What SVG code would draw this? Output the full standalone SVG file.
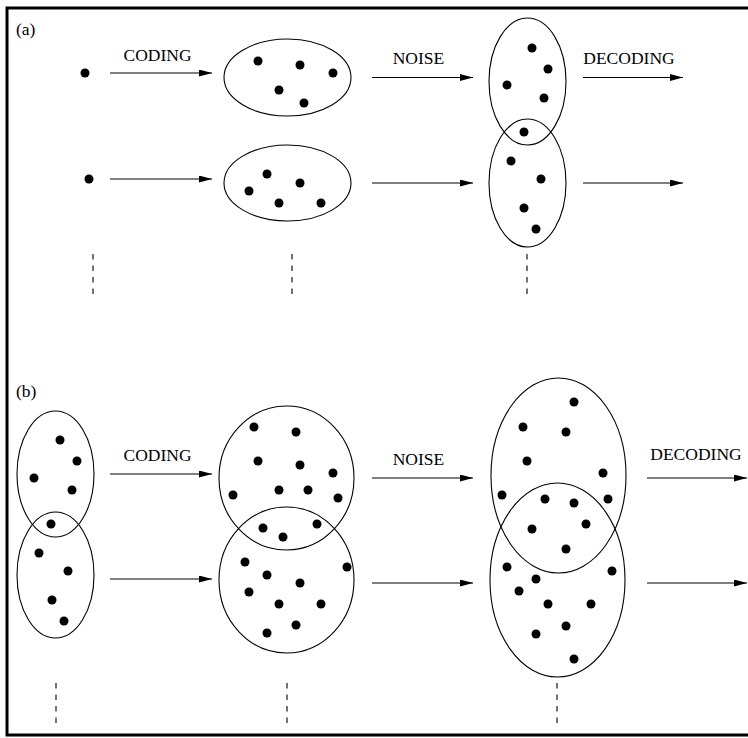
<svg xmlns="http://www.w3.org/2000/svg" width="748" height="738" viewBox="0 0 748 738">
<defs>
<style>
.frame{fill:none;stroke:#000;stroke-width:3}
.ell{fill:none;stroke:#000;stroke-width:1.1}
.dot{fill:#000}
.arr{stroke:#000;stroke-width:1.1;fill:none;marker-end:url(#ah)}
.dash{stroke:#000;stroke-width:1.1;stroke-dasharray:5.5 6}
.lbl{font-family:"Liberation Serif","Times New Roman",serif;font-size:17.5px;fill:#000}
.pl{font-family:"Liberation Serif","Times New Roman",serif;font-size:17.5px;fill:#000}
</style>
<marker id="ah" markerUnits="userSpaceOnUse" markerWidth="14" markerHeight="8" refX="13" refY="3.5" orient="auto">
<path d="M0,0 L13,3.5 L0,7 z" fill="#000"/>
</marker>
</defs>
<rect width="748" height="738" fill="#fff"/>
<path class="frame" d="M760,8 H7 V735 H760"/>

<text class="pl" x="16" y="35">(a)</text>
<text class="pl" x="16" y="397">(b)</text>

<g id="labels">
<text class="lbl" x="157.5" y="61" text-anchor="middle">CODING</text>
<text class="lbl" x="418.5" y="64" text-anchor="middle">NOISE</text>
<text class="lbl" x="629" y="64" text-anchor="middle">DECODING</text>
<text class="lbl" x="157.5" y="461" text-anchor="middle">CODING</text>
<text class="lbl" x="418.5" y="465" text-anchor="middle">NOISE</text>
<text class="lbl" x="696" y="460" text-anchor="middle">DECODING</text>
</g>

<g id="a-src1"><circle class="dot" cx="85" cy="73" r="4.5"/></g>
<g id="a-src2"><circle class="dot" cx="89" cy="179" r="4.5"/></g>

<g id="a-code1">
<ellipse class="ell" cx="287.5" cy="77.5" rx="63.5" ry="38.5"/>
<circle class="dot" cx="258" cy="61" r="4.5"/>
<circle class="dot" cx="300" cy="65" r="4.5"/>
<circle class="dot" cx="333" cy="73" r="4.5"/>
<circle class="dot" cx="279" cy="90" r="4.5"/>
<circle class="dot" cx="304" cy="103" r="4.5"/>
</g>
<g id="a-code2">
<ellipse class="ell" cx="287.5" cy="183" rx="63.5" ry="38"/>
<circle class="dot" cx="267" cy="174" r="4.5"/>
<circle class="dot" cx="300" cy="183" r="4.5"/>
<circle class="dot" cx="249" cy="191" r="4.5"/>
<circle class="dot" cx="279" cy="203" r="4.5"/>
<circle class="dot" cx="321" cy="203" r="4.5"/>
</g>
<g id="a-noise1">
<ellipse class="ell" cx="527.5" cy="81.5" rx="38.5" ry="63.5"/>
<circle class="dot" cx="532" cy="48" r="4.5"/>
<circle class="dot" cx="548" cy="69" r="4.5"/>
<circle class="dot" cx="507" cy="85" r="4.5"/>
<circle class="dot" cx="544" cy="98" r="4.5"/>
<circle class="dot" cx="524" cy="132" r="4.5"/>
</g>
<g id="a-noise2">
<ellipse class="ell" cx="527.5" cy="183" rx="38.5" ry="64"/>
<circle class="dot" cx="511" cy="161" r="4.5"/>
<circle class="dot" cx="541" cy="179" r="4.5"/>
<circle class="dot" cx="524" cy="208" r="4.5"/>
<circle class="dot" cx="536" cy="229" r="4.5"/>
</g>

<g id="b-src1">
<ellipse class="ell" cx="55.5" cy="474" rx="38.5" ry="63"/>
<circle class="dot" cx="60" cy="440" r="4.5"/>
<circle class="dot" cx="77" cy="461" r="4.5"/>
<circle class="dot" cx="34" cy="478" r="4.5"/>
<circle class="dot" cx="72" cy="490" r="4.5"/>
<circle class="dot" cx="51" cy="524" r="4.5"/>
</g>
<g id="b-src2">
<ellipse class="ell" cx="55.5" cy="575" rx="38.5" ry="63"/>
<circle class="dot" cx="39" cy="553" r="4.5"/>
<circle class="dot" cx="68" cy="571" r="4.5"/>
<circle class="dot" cx="52" cy="600" r="4.5"/>
<circle class="dot" cx="64" cy="621" r="4.5"/>
</g>
<g id="b-code1">
<ellipse class="ell" cx="286.5" cy="478" rx="67.5" ry="72"/>
<circle class="dot" cx="254" cy="427" r="4.5"/>
<circle class="dot" cx="296" cy="432" r="4.5"/>
<circle class="dot" cx="258" cy="461" r="4.5"/>
<circle class="dot" cx="300" cy="465" r="4.5"/>
<circle class="dot" cx="333" cy="473" r="4.5"/>
<circle class="dot" cx="233" cy="495" r="4.5"/>
<circle class="dot" cx="279" cy="490" r="4.5"/>
<circle class="dot" cx="308" cy="490" r="4.5"/>
<circle class="dot" cx="338" cy="498" r="4.5"/>
<circle class="dot" cx="263" cy="528" r="4.5"/>
<circle class="dot" cx="283" cy="537" r="4.5"/>
<circle class="dot" cx="317" cy="524" r="4.5"/>
</g>
<g id="b-code2">
<ellipse class="ell" cx="286.5" cy="580" rx="67.5" ry="73"/>
<circle class="dot" cx="245" cy="562" r="4.5"/>
<circle class="dot" cx="267" cy="575" r="4.5"/>
<circle class="dot" cx="347" cy="567" r="4.5"/>
<circle class="dot" cx="300" cy="583" r="4.5"/>
<circle class="dot" cx="249" cy="592" r="4.5"/>
<circle class="dot" cx="279" cy="604" r="4.5"/>
<circle class="dot" cx="321" cy="604" r="4.5"/>
<circle class="dot" cx="296" cy="625" r="4.5"/>
<circle class="dot" cx="267" cy="633" r="4.5"/>
</g>
<g id="b-noise1">
<ellipse class="ell" cx="558.5" cy="475.5" rx="67.5" ry="97.5"/>
<circle class="dot" cx="574" cy="402" r="4.5"/>
<circle class="dot" cx="523" cy="427" r="4.5"/>
<circle class="dot" cx="566" cy="432" r="4.5"/>
<circle class="dot" cx="527" cy="461" r="4.5"/>
<circle class="dot" cx="603" cy="473" r="4.5"/>
<circle class="dot" cx="502" cy="495" r="4.5"/>
<circle class="dot" cx="545" cy="499" r="4.5"/>
<circle class="dot" cx="574" cy="503" r="4.5"/>
<circle class="dot" cx="608" cy="499" r="4.5"/>
<circle class="dot" cx="532" cy="529" r="4.5"/>
<circle class="dot" cx="586" cy="524" r="4.5"/>
<circle class="dot" cx="566" cy="549" r="4.5"/>
</g>
<g id="b-noise2">
<ellipse class="ell" cx="557.5" cy="580" rx="67.5" ry="97"/>
<circle class="dot" cx="507" cy="567" r="4.5"/>
<circle class="dot" cx="536" cy="579" r="4.5"/>
<circle class="dot" cx="612" cy="571" r="4.5"/>
<circle class="dot" cx="519" cy="591" r="4.5"/>
<circle class="dot" cx="548" cy="604" r="4.5"/>
<circle class="dot" cx="591" cy="604" r="4.5"/>
<circle class="dot" cx="566" cy="626" r="4.5"/>
<circle class="dot" cx="536" cy="634" r="4.5"/>
<circle class="dot" cx="574" cy="659" r="4.5"/>
</g>

<g id="connectors">
<line class="arr" x1="110" y1="73" x2="212" y2="73"/>
<line class="arr" x1="372" y1="77.5" x2="473" y2="77.5"/>
<line class="arr" x1="583" y1="77.5" x2="683" y2="77.5"/>
<line class="arr" x1="110" y1="179" x2="212" y2="179"/>
<line class="arr" x1="372" y1="183" x2="473" y2="183"/>
<line class="arr" x1="583" y1="183" x2="683" y2="183"/>
<line class="arr" x1="110" y1="474" x2="212" y2="474"/>
<line class="arr" x1="372" y1="478" x2="473" y2="478"/>
<line class="arr" x1="647" y1="478" x2="747" y2="478"/>
<line class="arr" x1="110" y1="579" x2="212" y2="579"/>
<line class="arr" x1="372" y1="583" x2="473" y2="583"/>
<line class="arr" x1="647" y1="583" x2="747" y2="583"/>
<line class="dash" x1="93" y1="254" x2="93" y2="294"/>
<line class="dash" x1="292" y1="254" x2="292" y2="294"/>
<line class="dash" x1="527" y1="254" x2="527" y2="294"/>
<line class="dash" x1="56" y1="683" x2="56" y2="723"/>
<line class="dash" x1="287" y1="683" x2="287" y2="723"/>
<line class="dash" x1="557" y1="683" x2="557" y2="723"/>
</g>
</svg>
